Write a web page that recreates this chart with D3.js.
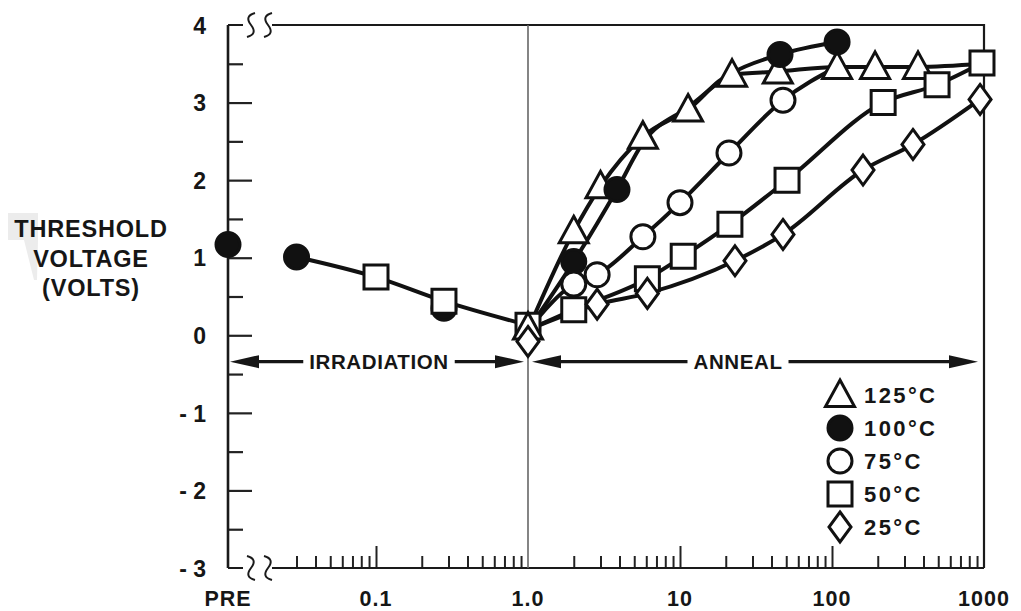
<!DOCTYPE html>
<html>
<head>
<meta charset="utf-8">
<script src="https://cdn.jsdelivr.net/npm/d3@7"></script>
<style>
body { margin: 0; background: #fff; }
svg text { font-family: "Liberation Sans", Arial, sans-serif; font-weight: bold; fill: #161616; }
</style>
</head>
<body>
<div id="chart"></div>
<script>
// Irradiation phase (time on log axis, threshold voltage in volts)
const preVolts = 1.17;
const irrTime = [0.03, 0.1, 0.28, 1.0];
const irrVolts = [1.01, 0.75, 0.44, 0.13];
const irrShape = ["dot", "square", "square", "square"];

// markers partly hidden around the irradiation points
const underTime = [0.28];
const underVolts = [0.35];
const overTime = [1.0, 1.0];
const overVolts = [0.1, -0.08];
const overShape = ["triangle", "diamond"];

// Anneal phase, all curves start from the end of irradiation
const annealStart = 0.07;

const t125 = [2, 3, 5.7, 11.3, 22, 44, 108, 192, 368, 970];
const v125 = [1.34, 1.92, 2.56, 2.91, 3.36, 3.4, 3.46, 3.46, 3.46, 3.5];
const m125 = [1, 1, 1, 1, 1, 1, 1, 1, 1, 0];

const t100 = [2, 3.85, 5.7, 11.5, 22, 45.5, 108];
const v100 = [0.95, 1.88, 2.48, 2.95, 3.38, 3.62, 3.78];
const m100 = [1, 1, 0, 0, 0, 1, 1];

const t75 = [2, 2.85, 5.7, 10, 21, 47.6, 108];
const v75 = [0.66, 0.78, 1.27, 1.71, 2.35, 3.03, 3.46];
const m75 = [1, 1, 1, 1, 1, 1, 0];

const t50 = [2, 6.1, 10.5, 21.3, 50.6, 217, 491, 970];
const v50 = [0.33, 0.73, 1.02, 1.43, 2.0, 3.0, 3.23, 3.51];

const t25 = [2.85, 6.1, 23, 47.6, 160, 341, 942];
const v25 = [0.4, 0.54, 0.96, 1.3, 2.13, 2.46, 3.04];

const seriesNames = ["125°C", "100°C", "75°C", "50°C", "25°C"];
const seriesShapes = ["triangle", "dot", "circle", "square", "diamond"];

const yTicks = [-3, -2, -1, 0, 1, 2, 3, 4];
const yMinor = [-2.5, -1.5, -0.5, 0.5, 1.5, 2.5, 3.5];
const xLabels = ["0.1", "1.0", "10", "100", "1000"];
const xLabelValues = [0.1, 1, 10, 100, 1000];
const xMajor = [0.1, 10, 100];

// Set dimensions
const width = 1021, height = 611;
const plotLeft = 228, plotRight = 984, plotTop = 25, plotBottom = 568;

const svg = d3.select("#chart")
  .append("svg")
  .attr("width", width)
  .attr("height", height);

const x = d3.scaleLog().domain([0.1, 1000]).range([376, plotRight]);
const y = d3.scaleLinear().domain([-3, 4]).range([plotBottom, plotTop]);

// scan shading behind the axis title
svg.append("path")
  .attr("d", "M8,213L38,213L38,240L37,280L34,280L24,240L8,240Z")
  .attr("fill", "#ececec");

// Y axis title
["THRESHOLD", "VOLTAGE", "(VOLTS)"].forEach((t, i) => {
  svg.append("text")
    .attr("x", 91)
    .attr("y", 237 + i * 29.5)
    .attr("text-anchor", "middle")
    .style("font-size", "23.5px")
    .style("letter-spacing", "0.8px")
    .text(t);
});

// Y axis ticks (pointing inward)
const yAxis = svg.append("g")
  .attr("transform", `translate(${plotLeft},0)`)
  .call(d3.axisLeft(y).tickValues(yTicks).tickSize(-24).tickPadding(22)
    .tickFormat(d => d < 0 ? "- " + (-d) : d));
yAxis.select(".domain").remove();
yAxis.selectAll("line").attr("stroke", "#222").attr("stroke-width", 2.2)
  .filter(d => d === -3 || d === 4).remove();
yAxis.selectAll("text")
  .attr("dy", "0.36em")
  .style("font-size", "23px")
  .style("font-family", "Liberation Sans, Arial, sans-serif")
  .style("font-weight", "bold")
  .attr("fill", "#161616");

const yAxisMinor = svg.append("g")
  .attr("transform", `translate(${plotLeft},0)`)
  .call(d3.axisLeft(y).tickValues(yMinor).tickSize(-15).tickFormat(""));
yAxisMinor.select(".domain").remove();
yAxisMinor.selectAll("line").attr("stroke", "#222").attr("stroke-width", 2.2);

// X axis ticks (pointing inward)
const xMinor = [];
[0.01, 0.1, 1, 10, 100].forEach(dec => {
  for (let k = 2; k <= 9; k++) {
    const v = +(k * dec).toPrecision(3);
    if (v >= 0.03) xMinor.push(v);
  }
});

const xAxisMinor = svg.append("g")
  .attr("transform", `translate(0,${plotBottom})`)
  .call(d3.axisBottom(x).tickValues(xMinor).tickSize(-12).tickFormat(""));
xAxisMinor.select(".domain").remove();
xAxisMinor.selectAll("line").attr("stroke", "#222").attr("stroke-width", 2);

const xAxisMajor = svg.append("g")
  .attr("transform", `translate(0,${plotBottom})`)
  .call(d3.axisBottom(x).tickValues(xMajor).tickSize(-22).tickFormat(""));
xAxisMajor.select(".domain").remove();
xAxisMajor.selectAll("line").attr("stroke", "#222").attr("stroke-width", 2);

// X tick labels
svg.append("text")
  .attr("x", plotLeft)
  .attr("y", 606)
  .attr("text-anchor", "middle")
  .style("font-size", "21.5px")
  .style("letter-spacing", "1px")
  .text("PRE");

svg.selectAll(".xlabel")
  .data(xLabelValues)
  .enter()
  .append("text")
  .attr("class", "xlabel")
  .attr("x", d => x(d))
  .attr("y", 606)
  .attr("text-anchor", "middle")
  .style("font-size", "21.5px")
  .style("letter-spacing", "1px")
  .text((d, i) => xLabels[i]);

// Frame with axis breaks
const frame = svg.append("g")
  .attr("fill", "none")
  .attr("stroke", "#1a1a1a")
  .attr("stroke-width", 2.2);

frame.append("path").attr("d", `M${plotLeft},${plotTop}V${plotBottom}`).attr("stroke-width", 2.6);
frame.append("path").attr("d", `M${plotLeft},${plotTop}H243M272,${plotTop}H${plotRight}V${plotBottom}`);
frame.append("path").attr("d", `M${plotLeft},${plotBottom}H243M272,${plotBottom}H${plotRight}`);

const sBreak = (cx, cy) => `M${cx + 4},${cy - 12}Q${cx - 7},${cy - 9} ${cx},${cy}Q${cx + 7},${cy + 9} ${cx - 4},${cy + 12}`;
const zBreak = (cx, cy) => `M${cx - 4},${cy - 12}Q${cx + 7},${cy - 9} ${cx},${cy}Q${cx - 7},${cy + 9} ${cx + 4},${cy + 12}`;
[251, 268].forEach(cx => {
  frame.append("path").attr("d", sBreak(cx, plotTop)).attr("stroke-width", 2);
  frame.append("path").attr("d", zBreak(cx, plotBottom)).attr("stroke-width", 2);
});

// Vertical line at end of irradiation
svg.append("line")
  .attr("x1", x(1)).attr("x2", x(1))
  .attr("y1", plotTop).attr("y2", plotBottom)
  .attr("stroke", "#666")
  .attr("stroke-width", 1.6);

// Phase arrows
const arrowY = y(-0.34);
function phaseArrow(x1, x2, textX, label) {
  const g = svg.append("g");
  g.append("line")
    .attr("x1", x1 + 10).attr("x2", x2 - 10)
    .attr("y1", arrowY).attr("y2", arrowY)
    .attr("stroke", "#161616").attr("stroke-width", 3.4);
  g.append("path")
    .attr("d", `M${x1},${arrowY}l29,-6.5v13Z M${x2},${arrowY}l-29,-6.5v13Z`)
    .attr("fill", "#161616");
  const t = g.append("text")
    .attr("x", textX)
    .attr("y", arrowY + 7.5)
    .attr("text-anchor", "middle")
    .style("font-size", "20.5px")
    .style("letter-spacing", "0.6px")
    .text(label);
  const b = t.node().getBBox();
  g.insert("rect", "text")
    .attr("x", b.x - 6).attr("y", arrowY - 5)
    .attr("width", b.width + 12).attr("height", 10)
    .attr("fill", "#fff");
}
phaseArrow(plotLeft + 2, x(1) - 4, 379, "IRRADIATION");
phaseArrow(x(1) + 4, 978, 738, "ANNEAL");

// Marker shapes
const shapePath = {
  triangle: "M0,-15L14.5,11.5L-14.5,11.5Z",
  square: "M-12,-12H12V12H-12Z",
  diamond: "M0,-15L11,0L0,15L-11,0Z",
  circle: "M12,0A12,12 0 1,1 -12,0A12,12 0 1,1 12,0Z",
  dot: "M12,0A12,12 0 1,1 -12,0A12,12 0 1,1 12,0Z"
};

function drawMarkers(g, pts) {
  g.selectAll(null)
    .data(pts)
    .enter()
    .append("path")
    .attr("transform", d => `translate(${d.px},${d.py})`)
    .attr("d", d => shapePath[d.shape])
    .attr("fill", d => d.shape === "dot" ? "#111" : "#fff")
    .attr("stroke", "#111")
    .attr("stroke-width", 3)
    .attr("stroke-linejoin", "miter");
}

const line = d3.line()
  .x(d => x(d.t))
  .y(d => y(d.v))
  .curve(d3.curveMonotoneX);

// Build anneal series
const times = [t125, t100, t75, t50, t25];
const volts = [v125, v100, v75, v50, v25];
const marks = [m125, m100, m75, null, null];
const series = seriesNames.map((name, s) => ({
  name: name,
  shape: seriesShapes[s],
  points: [{ t: 1, v: annealStart, mark: 0 }].concat(
    times[s].map((t, i) => ({ t: t, v: volts[s][i], mark: marks[s] ? marks[s][i] : 1 })))
}));

const irrPoints = irrTime.map((t, i) => ({ t: t, v: irrVolts[i] }));

// Lines
const lines = svg.append("g")
  .attr("fill", "none")
  .attr("stroke", "#111")
  .attr("stroke-width", 4)
  .attr("stroke-linejoin", "round");
lines.append("path").attr("d", line(irrPoints));
series.forEach(s => lines.append("path").attr("d", line(s.points)));

// Markers
const markers = svg.append("g");
drawMarkers(markers, underTime.map((t, i) => ({ px: x(t), py: y(underVolts[i]), shape: "dot" })));
drawMarkers(markers, [{ px: plotLeft, py: y(preVolts), shape: "dot" }]);
drawMarkers(markers, irrTime.map((t, i) => ({ px: x(t), py: y(irrVolts[i]), shape: irrShape[i] })));
drawMarkers(markers, overTime.map((t, i) => ({ px: x(t), py: y(overVolts[i]), shape: overShape[i] })));
series.forEach(s => {
  drawMarkers(markers, s.points.filter(p => p.mark)
    .map(p => ({ px: x(p.t), py: y(p.v), shape: s.shape })));
});

// Legend
const legend = svg.append("g")
  .attr("transform", "translate(840,395)");

const legendItems = legend.selectAll(".legend-item")
  .data(seriesNames)
  .enter()
  .append("g")
  .attr("class", "legend-item")
  .attr("transform", (d, i) => `translate(0,${i * 33})`);

legendItems.each(function (d, i) {
  drawMarkers(d3.select(this), [{ px: 0, py: 0, shape: seriesShapes[i] }]);
});

legendItems.append("text")
  .attr("x", 24)
  .attr("y", 8)
  .style("font-size", "22px")
  .style("letter-spacing", "2.4px")
  .text(d => d);
</script>
</body>
</html>
